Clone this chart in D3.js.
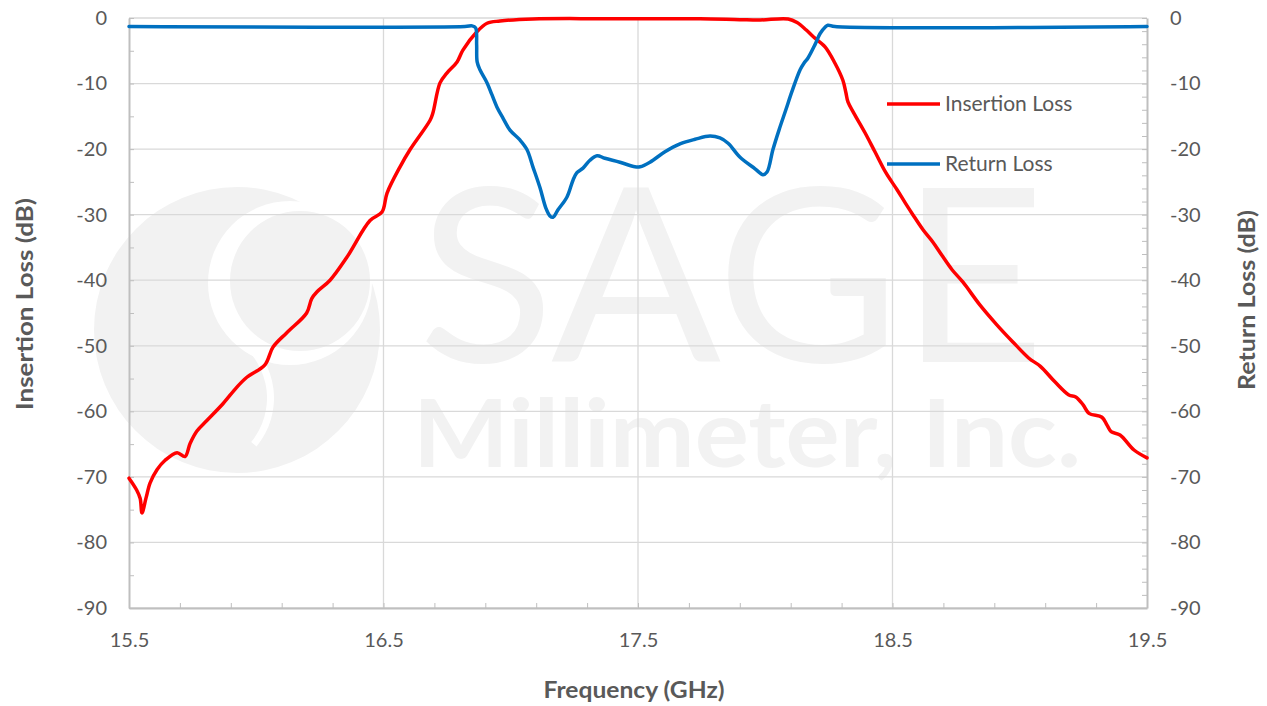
<!DOCTYPE html>
<html>
<head>
<meta charset="utf-8">
<script src="https://cdn.jsdelivr.net/npm/d3@7"></script>
<style>
	body { margin: 0; background: #fff; }
	text { font-family: Lato, "Open Sans", sans-serif; fill: #595959; }
	.grid line { stroke: #d9d9d9; stroke-width: 1.3; }
	.axis path, .axis line { stroke: #bfbfbf; }
	.axis path { stroke-width: 2; }
	.axis-title { font-weight: bold; font-size: 22px; }
	.tick-label { font-size: 20px; }
</style>
</head>
<body>
<svg id="chart" width="1267" height="706"></svg>
<script>

// x ticks (GHz) and y ticks (dB)
var freqTicks = [15.5, 16.5, 17.5, 18.5, 19.5];
var dbTicks = [0, -10, -20, -30, -40, -50, -60, -70, -80, -90];

// Insertion Loss
var ilFreq = [15.50, 15.53, 15.544, 15.551, 15.567, 15.583, 15.61, 15.641, 15.689, 15.72,
	15.74, 15.767, 15.806, 15.87, 15.924, 15.963, 16.034, 16.066, 16.12, 16.198,
	16.218, 16.238, 16.29, 16.356, 16.447, 16.494, 16.514, 16.565, 16.604, 16.683,
	16.694, 16.722, 16.749, 16.789, 16.812, 16.867, 16.907, 16.958, 17.087, 17.35,
	17.547, 17.744, 17.9, 17.98, 18.09, 18.125, 18.16, 18.19, 18.235, 18.274,
	18.305, 18.317, 18.325, 18.348, 18.392, 18.431, 18.474, 18.518, 18.55, 18.58,
	18.62, 18.659, 18.694, 18.734, 18.777, 18.844, 18.91, 18.97, 19.036, 19.08,
	19.138, 19.193, 19.22, 19.249, 19.272, 19.323, 19.343, 19.359, 19.394, 19.449,
	19.5];
var ilDb = [-70.2, -72.0, -73.3, -75.5, -73.2, -70.9, -68.9, -67.5, -66.3, -66.9,
	-64.9, -63.0, -61.4, -58.8, -56.3, -54.8, -52.9, -50.2, -48.0, -45.0,
	-42.8, -41.8, -40.0, -36.5, -30.9, -29.6, -26.7, -22.7, -20.1, -15.6,
	-14.5, -9.9, -8.4, -6.7, -4.9, -2.1, -0.8, -0.46, -0.15, -0.1,
	-0.1, -0.12, -0.25, -0.3, -0.15, -0.7, -1.8, -2.9, -4.4, -6.9,
	-9.5, -11.4, -12.8, -14.5, -17.5, -20.4, -23.6, -26.2, -28.2, -30.0,
	-32.3, -34.2, -36.2, -38.4, -40.3, -43.8, -46.8, -49.3, -51.9, -53.1,
	-55.5, -57.5, -57.8, -59.0, -60.3, -60.9, -62.1, -63.1, -63.6, -65.9,
	-67.1];

// Return Loss
var rlFreq = [15.5, 16.82, 16.848, 16.862, 16.866, 16.868, 16.879, 16.907, 16.926, 16.946,
	16.97, 16.997, 17.036, 17.064, 17.087, 17.115, 17.138, 17.154, 17.166, 17.185,
	17.221, 17.245, 17.26, 17.284, 17.311, 17.339, 17.37, 17.429, 17.488, 17.508,
	17.547, 17.606, 17.665, 17.724, 17.783, 17.822, 17.854, 17.9, 17.96, 17.991,
	18.007, 18.03, 18.054, 18.081, 18.105, 18.137, 18.152, 18.168, 18.195, 18.215,
	18.235, 18.246, 18.274, 19.5];
var rlDb = [-1.3, -1.3, -1.2, -1.5, -4.1, -6.7, -7.9, -9.9, -11.7, -13.6,
	-15.3, -17.1, -18.6, -20.1, -22.7, -25.9, -29.0, -30.2, -30.4, -29.3,
	-27.3, -24.7, -23.6, -22.9, -21.7, -21.0, -21.4, -22.0, -22.7, -22.7,
	-22.0, -20.4, -19.2, -18.5, -18.0, -18.3, -19.1, -21.2, -23.0, -23.9,
	-23.5, -20.1, -17.1, -14.0, -11.2, -7.9, -6.9, -6.1, -4.1, -2.4,
	-1.4, -1.1, -1.3, -1.3];

var seriesNames = ['Insertion Loss', 'Return Loss'];
var seriesColors = ['#ff0000', '#0070c0'];

var margin = { top: 18, right: 120, bottom: 98, left: 129 };
var W = 1267, H = 706;
var w = W - margin.left - margin.right;
var h = H - margin.top - margin.bottom;

var svg = d3.select('#chart');

var x = d3.scaleLinear().domain([15.5, 19.5]).range([margin.left, margin.left + w]);
var y = d3.scaleLinear().domain([-90, 0]).range([margin.top + h, margin.top]);

// plain hyphen for negatives, like the original
var fmt = function (d) { return String(d); };

// watermark (logo + company name)
var wm = svg.append('g').attr('class', 'watermark');
var wmCol = '#f2f2f2';
wm.append('circle').attr('cx', 237).attr('cy', 330).attr('r', 143).attr('fill', wmCol);
wm.append('circle').attr('cx', 290).attr('cy', 283).attr('r', 82).attr('fill', '#fff');
wm.append('circle').attr('cx', 300).attr('cy', 281).attr('r', 70).attr('fill', wmCol);
var lowArc = d3.arc().innerRadius(69).outerRadius(76)
	.startAngle(Math.PI * 0.2).endAngle(Math.PI * 0.72);
wm.append('path').attr('d', lowArc()).attr('transform', 'translate(198,398)').attr('fill', '#fff');
wm.append('text').attr('x', 418).attr('y', 362)
	.attr('textLength', 627).attr('lengthAdjust', 'spacingAndGlyphs')
	.style('font-size', '243px').style('font-weight', 400).style('fill', wmCol)
	.text('SAGE');
wm.append('text').attr('x', 413).attr('y', 467)
	.attr('textLength', 668).attr('lengthAdjust', 'spacingAndGlyphs')
	.style('font-size', '93px').style('font-weight', 'bold').style('fill', wmCol)
	.text('Millimeter, Inc.');

// grid
var grid = svg.append('g').attr('class', 'grid');
grid.selectAll('.hline').data(dbTicks).enter().append('line')
	.attr('x1', x(15.5)).attr('x2', x(19.5))
	.attr('y1', function (d) { return y(d); }).attr('y2', function (d) { return y(d); });
grid.selectAll('.vline').data(freqTicks.slice(1, -1)).enter().append('line')
	.attr('y1', y(0)).attr('y2', y(-90))
	.attr('x1', function (d) { return x(d); }).attr('x2', function (d) { return x(d); });

// axes: inner ticks drawn separately from the labels
svg.append('g').attr('class', 'axis')
	.attr('transform', 'translate(' + x(15.5) + ',0)')
	.call(d3.axisRight(y).tickValues(d3.range(0, -91, -5)).tickSize(5).tickSizeOuter(0).tickFormat(''));
svg.append('g').attr('class', 'axis')
	.attr('transform', 'translate(' + x(19.5) + ',0)')
	.call(d3.axisLeft(y).tickValues(d3.range(0, -91, -2)).tickSize(5).tickSizeOuter(0).tickFormat(''));
svg.append('g').attr('class', 'axis')
	.attr('transform', 'translate(0,' + y(-90) + ')')
	.call(d3.axisTop(x).tickValues(d3.range(15.5, 19.51, 0.2)).tickSize(5).tickSizeOuter(0).tickFormat(''));

var leftLab = svg.append('g').attr('transform', 'translate(' + x(15.5) + ',0)')
	.call(d3.axisLeft(y).tickValues(dbTicks).tickSize(0).tickPadding(22).tickFormat(fmt));
var rightLab = svg.append('g').attr('transform', 'translate(' + x(19.5) + ',0)')
	.call(d3.axisRight(y).tickValues(dbTicks).tickSize(0).tickPadding(23).tickFormat(fmt));
var bottomLab = svg.append('g').attr('transform', 'translate(0,' + y(-90) + ')')
	.call(d3.axisBottom(x).tickValues(freqTicks).tickSize(0).tickPadding(25).tickFormat(d3.format('.1f')));
[leftLab, rightLab, bottomLab].forEach(function (g) {
	g.select('.domain').remove();
	g.selectAll('text').attr('class', 'tick-label').attr('font-family', null).attr('font-size', null)
		.style('fill', '#595959');
});

// curves
var line = d3.line()
	.x(function (d) { return x(d[0]); })
	.y(function (d) { return y(d[1]); })
	.curve(d3.curveCatmullRom.alpha(0.5));

var series = [d3.zip(ilFreq, ilDb), d3.zip(rlFreq, rlDb)];
series.forEach(function (pts, i) {
	svg.append('path')
		.datum(pts)
		.attr('d', line)
		.attr('fill', 'none')
		.attr('stroke', seriesColors[i])
		.attr('stroke-width', 3.5)
		.attr('stroke-linejoin', 'round')
		.attr('stroke-linecap', 'round');
});

// legend
var legend = svg.append('g').attr('transform', 'translate(887,104)');
seriesNames.forEach(function (name, i) {
	var g = legend.append('g').attr('transform', 'translate(0,' + i * 60 + ')');
	g.append('line').attr('x1', 0).attr('x2', 53).attr('y1', 0).attr('y2', 0)
		.attr('stroke', seriesColors[i]).attr('stroke-width', 3.5);
	g.append('text').attr('x', 58).attr('y', 0).attr('dy', '0.35em')
		.style('font-size', '21px').text(name);
});

// axis titles
svg.append('text').attr('class', 'axis-title')
	.attr('transform', 'translate(33,304) rotate(-90)')
	.attr('text-anchor', 'middle')
	.attr('textLength', 212).attr('lengthAdjust', 'spacingAndGlyphs')
	.text('Insertion Loss (dB)');
svg.append('text').attr('class', 'axis-title')
	.attr('transform', 'translate(1255,300) rotate(-90)')
	.attr('text-anchor', 'middle')
	.attr('textLength', 180).attr('lengthAdjust', 'spacingAndGlyphs')
	.text('Return Loss (dB)');
svg.append('text').attr('class', 'axis-title')
	.attr('x', 634).attr('y', 698)
	.attr('text-anchor', 'middle')
	.attr('textLength', 181).attr('lengthAdjust', 'spacingAndGlyphs')
	.text('Frequency (GHz)');

</script>
</body>
</html>
